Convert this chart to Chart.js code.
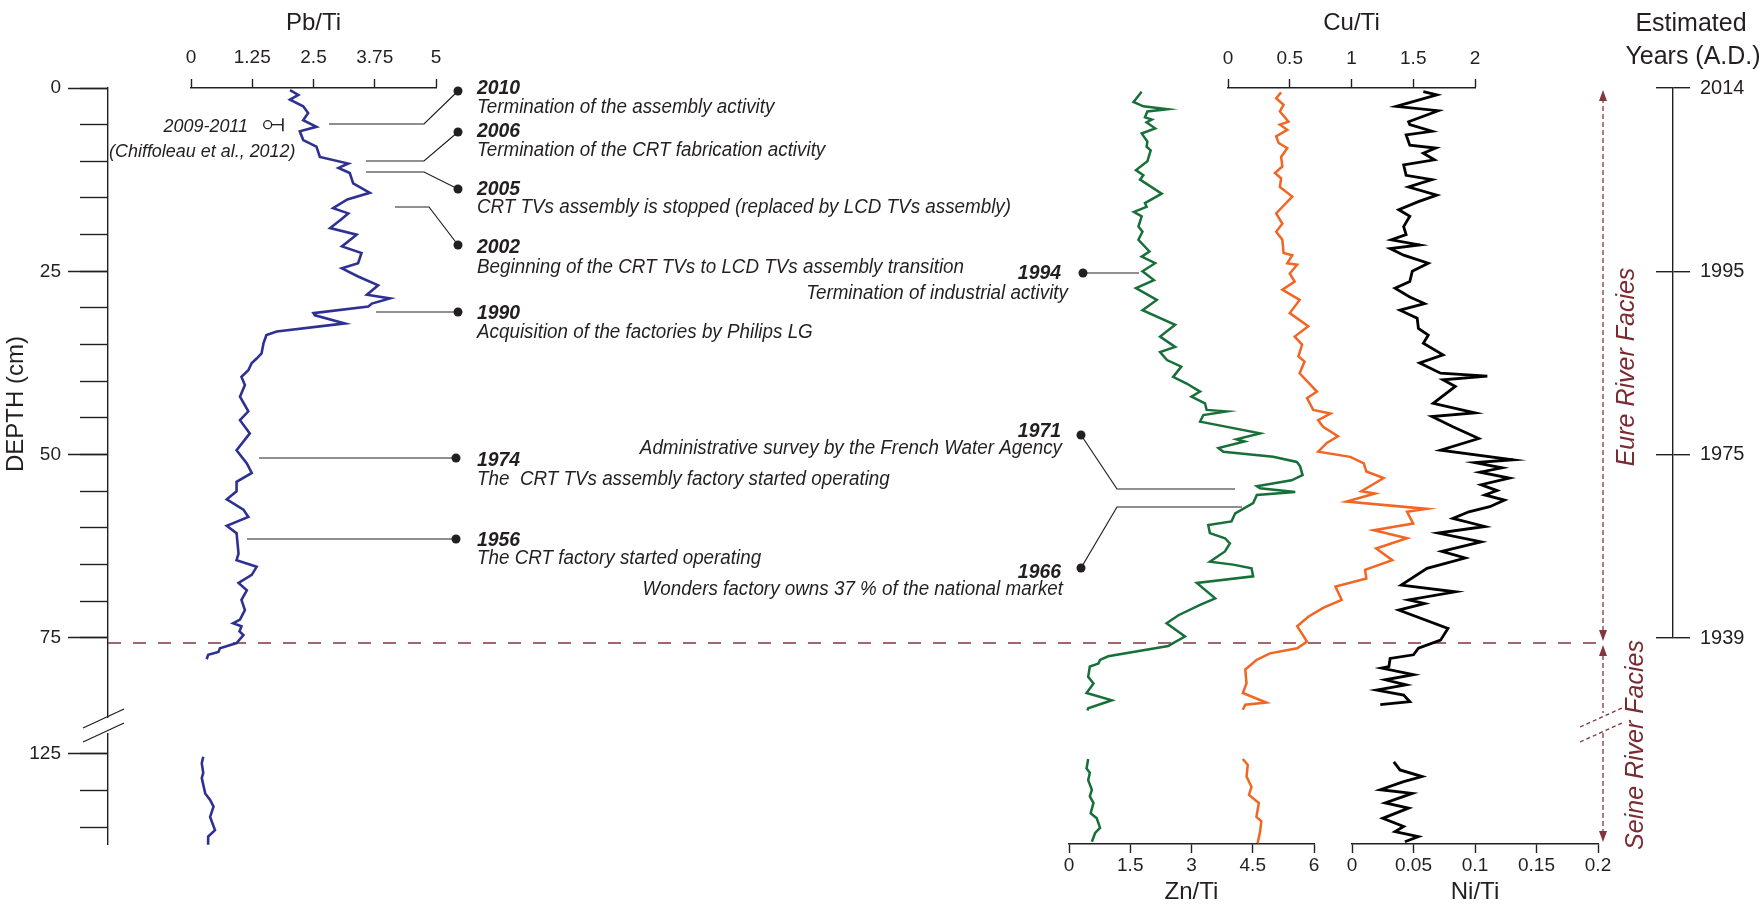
<!DOCTYPE html>
<html>
<head>
<meta charset="utf-8">
<script src="https://cdn.jsdelivr.net/npm/chart.js@4.4.0/dist/chart.umd.min.js"></script>
<style>
  html, body { margin: 0; padding: 0; background: #fff; }
  #wrap { position: relative; width: 1759px; height: 916px; overflow: hidden; background: #fff; }
  #wrap canvas { position: absolute; left: 0; top: 0; }
</style>
</head>
<body>
<div id="wrap">
  <canvas id="depthMinor" width="1759" height="916"></canvas>
  <canvas id="depthMajor" width="1759" height="916"></canvas>
  <canvas id="years" width="1759" height="916"></canvas>
  <canvas id="pb" width="1759" height="916"></canvas>
  <canvas id="zn" width="1759" height="916"></canvas>
  <canvas id="cu" width="1759" height="916"></canvas>
  <canvas id="ni" width="1759" height="916"></canvas>
</div>
<script>
// ---- data (depth in cm, ratios) ----
const pbDepth = [0.3,0.95,1.6,2.5,3.4,4.4,5.3,5.9,7.1,8.0,9.4,10.3,10.9,11.6,13.0,14.3,15.2,16.4,17.1,18.0,19.1,20.0,21.6,22.5,23.9,24.6,25.7,26.9,28.2,28.7,29.4,29.8,30.7,31.0,32.1,33.2,33.7,34.8,36.2,36.9,37.5,38.5,39.4,40.5,42.1,44.1,45.3,47.1,49.4,51.2,52.5,53.7,55.0,56.1,57.5,58.5,59.7,60.7,63.5,64.4,65.3,66.4,67.5,68.5,69.8,71.2,72.5,73.0,73.4,74.1,74.6,75.7,76.4,76.9,77.3,77.9];
const pbValue = [2.02,2.19,2.02,2.29,2.39,2.29,2.56,2.22,2.29,2.56,2.63,3.21,3.01,3.24,3.31,3.65,3.19,2.90,3.21,3.05,2.84,3.38,3.08,3.48,3.41,3.08,3.41,3.82,3.59,4.06,3.69,3.62,2.50,2.53,3.14,1.75,1.54,1.48,1.44,1.34,1.24,1.17,1.03,1.10,1.00,1.17,1.00,1.20,0.93,1.14,1.24,0.93,0.93,0.73,1.07,1.17,0.73,0.93,0.97,0.93,1.34,1.24,0.97,1.14,1.03,1.10,1.00,0.86,1.03,0.99,1.07,0.93,0.59,0.56,0.35,0.32];
const pbDepthLow = [125.4,126.3,127.6,128.3,130.4,131.3,132.2,133.6,135.4,136.3,137.4];
const pbValueLow = [0.25,0.22,0.25,0.22,0.29,0.39,0.46,0.39,0.49,0.35,0.35];

const znDepth = [0.5,1.9,2.5,2.9,3.2,4.0,4.3,4.7,5.5,6.2,7.3,8.0,8.5,10.0,11.2,11.9,12.5,14.4,15.7,16.2,16.9,17.5,18.9,19.6,20.7,22.3,23.0,23.9,25.0,26.2,27.3,28.9,30.3,32.3,33.9,35.3,36.0,37.1,38.0,39.4,40.3,41.4,42.1,43.0,43.9,44.1,44.6,45.5,47.1,47.9,48.2,49.1,49.6,50.3,51.0,51.6,52.8,53.5,54.3,54.6,55.1,55.5,56.6,58.0,59.1,59.6,60.7,61.4,62.1,63.2,64.6,65.0,65.5,66.6,67.5,69.6,70.5,71.9,73.0,74.8,75.7,76.1,77.5,78.0,78.5,78.9,80.3,81.2,82.5,83.5,84.6,84.9];
const znValue = [1.78,1.58,1.82,2.41,1.92,1.86,2.03,1.90,2.11,1.78,1.92,1.90,2.00,1.92,1.64,1.82,1.74,2.27,1.86,1.90,1.59,1.78,1.70,1.80,1.70,1.97,1.78,2.11,1.80,2.08,1.64,2.15,1.80,2.60,2.23,2.60,2.23,2.40,2.75,2.55,2.88,3.21,3.00,3.33,3.37,3.86,3.29,3.21,4.68,4.10,4.30,3.66,3.78,5.00,5.58,5.66,5.72,5.45,4.60,4.68,5.54,4.60,4.51,4.07,3.98,3.41,3.45,3.82,3.94,3.82,3.45,4.02,4.47,4.51,3.13,3.58,3.21,2.68,2.39,2.84,2.55,2.43,0.96,0.76,0.72,0.51,0.47,0.60,0.43,1.05,0.47,0.45];
const znDepthLow = [125.7,127.0,127.6,128.6,129.9,130.8,131.7,133.1,133.8,135.1,135.8,137.0];
const znValueLow = [0.47,0.43,0.51,0.47,0.56,0.51,0.60,0.53,0.68,0.76,0.64,0.56];

const cuDepth = [0.6,1.4,2.3,3.2,4.6,5.0,5.7,6.6,7.5,8.2,9.4,10.7,11.6,12.3,13.5,14.8,16.4,17.1,18.5,19.6,20.7,22.5,22.8,23.9,24.1,25.3,26.4,27.5,28.9,30.7,32.5,33.9,35.0,36.6,37.3,38.9,41.4,42.3,43.9,44.4,45.3,46.2,47.5,48.4,49.6,50.3,51.2,52.3,53.2,55.0,55.3,56.4,57.4,57.8,59.4,60.3,61.4,62.8,64.4,65.7,66.9,68.0,69.8,70.9,72.1,73.4,75.5,76.4,77.1,78.0,79.3,81.2,82.5,83.8,84.1,84.8];
const cuValue = [0.43,0.39,0.45,0.42,0.49,0.42,0.48,0.39,0.41,0.48,0.43,0.44,0.38,0.43,0.42,0.52,0.43,0.39,0.44,0.39,0.44,0.45,0.52,0.48,0.56,0.50,0.54,0.44,0.58,0.50,0.65,0.54,0.60,0.57,0.62,0.58,0.72,0.64,0.69,0.83,0.73,0.77,0.89,0.80,0.73,0.99,1.10,1.12,1.26,1.08,1.19,0.96,1.61,1.45,1.50,1.18,1.45,1.20,1.33,1.11,1.12,0.87,0.92,0.77,0.65,0.56,0.64,0.56,0.34,0.23,0.14,0.15,0.12,0.31,0.14,0.12];
const cuDepthLow = [125.7,126.5,128.1,129.5,130.6,131.7,133.6,134.2,135.6,137.2];
const cuValueLow = [0.12,0.16,0.15,0.19,0.17,0.25,0.23,0.27,0.26,0.24];

const niDepth = [0.5,0.95,2.5,3.1,4.6,5.0,5.9,6.4,7.8,8.2,8.9,9.8,10.5,11.9,12.5,13.5,14.6,15.5,16.6,17.5,18.9,20.0,20.7,21.4,21.9,22.8,23.9,25.0,26.4,27.3,28.5,29.4,30.3,31.4,32.8,33.7,34.8,36.4,37.5,38.9,39.3,39.8,40.7,43.0,44.3,44.8,46.2,47.8,49.4,50.7,51.1,51.8,52.4,53.2,54.1,54.9,55.5,56.2,57.1,57.8,58.7,59.8,60.7,61.9,63.2,64.1,65.5,67.8,68.7,69.8,70.3,71.2,73.7,75.3,76.4,77.3,77.8,78.9,79.1,80.0,80.7,81.4,82.1,82.8,83.7,84.1];
const niValue = [0.058,0.069,0.036,0.070,0.046,0.047,0.065,0.044,0.047,0.068,0.058,0.067,0.042,0.044,0.065,0.046,0.069,0.054,0.038,0.047,0.042,0.044,0.032,0.055,0.031,0.042,0.062,0.049,0.047,0.035,0.047,0.059,0.039,0.053,0.054,0.062,0.058,0.074,0.055,0.072,0.110,0.074,0.084,0.066,0.100,0.065,0.082,0.103,0.072,0.131,0.100,0.122,0.104,0.128,0.105,0.118,0.108,0.124,0.112,0.095,0.082,0.108,0.070,0.105,0.073,0.092,0.061,0.040,0.084,0.046,0.059,0.038,0.078,0.072,0.054,0.050,0.031,0.030,0.024,0.050,0.027,0.044,0.020,0.042,0.047,0.023];
const niDepthLow = [126.1,127.2,128.1,128.8,129.9,130.4,131.7,132.4,133.8,134.9,135.6,136.3,137.0];
const niValueLow = [0.034,0.039,0.057,0.042,0.023,0.049,0.027,0.046,0.025,0.042,0.035,0.054,0.043];

// Chiffoleau et al. (2012) point, 2009-2011
const chiffDepth = [5.0];
const chiffValue = [1.565];
const chiffError = [0.31];

// axes
const depthMinorTicks = [0,5,10,15,20,25,30,35,40,45,50,55,60,65,70,75,125,130,135];
const depthMajorTicks = [0,25,50,75,125];
const yearDepths = [0,25,50,75];
const yearLabels = [2014,1995,1975,1939];
const pbTicks = [0,1.25,2.5,3.75,5];
const znTicks = [0,1.5,3,4.5,6];
const cuTicks = [0,0.5,1,1.5,2];
const niTicks = [0,0.05,0.1,0.15,0.2];
const faciesDepth = 75.7;

// the depth axis is broken between ~86 and ~125 cm
const BREAK_FROM = 100, BREAK_SHIFT = 34.2, DEPTH_MAX = 103.1;
function plotDepth(d) { return d > BREAK_FROM ? d - BREAK_SHIFT : d; }
function points(depths, values) {
    return depths.map((d, i) => ({ x: values[i], y: plotDepth(d) }));
}

const INK = '#231f20';
const FACIES = '#84363c';
const FACIES_TEXT = '#7a2a31';
Chart.defaults.font.family = "'Liberation Sans', Arial, sans-serif";
Chart.defaults.color = INK;

// event annotations
const eventYears = ['2010','2006','2005','2002','1990','1974','1956','1994','1971','1966'];
const eventTexts = [
    'Termination of the assembly activity',
    'Termination of the CRT fabrication activity',
    'CRT TVs assembly is stopped (replaced by LCD TVs assembly)',
    'Beginning of the CRT TVs to LCD TVs assembly transition',
    'Acquisition of the factories by Philips LG',
    'The  CRT TVs assembly factory started operating',
    'The CRT factory started operating',
    'Termination of industrial activity',
    'Administrative survey by the French Water Agency',
    'Wonders factory owns 37 % of the national market'
];
// leader lines and label placement (page pixels)
const eventLayout = [
    { path: [[329,124],[424,124],[458,91]],  x: 477, y1: 88,  y2: 108, align: 'left' },
    { path: [[366,161],[424,161],[458,132]], x: 477, y1: 131, y2: 151, align: 'left' },
    { path: [[366,172],[424,172],[458,189]], x: 477, y1: 189, y2: 208, align: 'left' },
    { path: [[395,207],[429,207],[458,245]], x: 477, y1: 247, y2: 268, align: 'left' },
    { path: [[376,312],[458,312]],           x: 477, y1: 313, y2: 333, align: 'left' },
    { path: [[259,458],[456,458]],           x: 477, y1: 460, y2: 480, align: 'left' },
    { path: [[247,539],[456,539]],           x: 477, y1: 540, y2: 559, align: 'left' },
    { path: [[1139,273],[1083,273]],         x: 1061, x2: 1068, y1: 273, y2: 294, align: 'right' },
    { path: [[1235,489],[1117,489],[1081,435]], x: 1061, x2: 1062, y1: 431, y2: 449, align: 'right' },
    { path: [[1242,507],[1117,507],[1081,568]], x: 1061, x2: 1063, y1: 572, y2: 590, align: 'right' }
];

function line(ctx, pts) {
    ctx.beginPath();
    ctx.moveTo(pts[0][0], pts[0][1]);
    for (let i = 1; i < pts.length; i++) ctx.lineTo(pts[i][0], pts[i][1]);
    ctx.stroke();
}
// sx < 1 squeezes the glyphs a little, closer to the condensed face of the original
function text(ctx, s, x, y, font, align, color, rot, sx) {
    ctx.save();
    ctx.translate(x, y);
    if (rot) ctx.rotate(rot);
    if (sx) ctx.scale(sx, 1);
    ctx.font = font;
    ctx.fillStyle = color;
    ctx.textAlign = align;
    ctx.textBaseline = 'middle';
    ctx.fillText(s, 0, 0);
    ctx.restore();
}
function arrowHead(ctx, x, tipY, dir) {
    ctx.beginPath();
    ctx.moveTo(x, tipY);
    ctx.lineTo(x - 4, tipY - dir * 11);
    ctx.lineTo(x + 4, tipY - dir * 11);
    ctx.closePath();
    ctx.fill();
}

const annotations = {
    id: 'annotations',
    afterDraw(chart) {
        const ctx = chart.ctx;
        const ys = chart.scales.y;
        const area = chart.chartArea;
        const FONT = "'Liberation Sans', Arial, sans-serif";
        ctx.save();

        // break on the depth axis
        ctx.fillStyle = '#fff';
        ctx.fillRect(area.left - 3, 718, 6, 15);
        ctx.strokeStyle = INK;
        ctx.lineWidth = 1.3;
        line(ctx, [[83,728],[124,709]]);
        line(ctx, [[83,742],[124,723]]);

        // Eure / Seine facies boundary
        const yb = ys.getPixelForValue(faciesDepth);
        ctx.strokeStyle = FACIES;
        ctx.lineWidth = 1.5;
        ctx.setLineDash([13, 12]);
        line(ctx, [[area.left, yb], [1603, yb]]);

        // facies arrows
        ctx.lineWidth = 1.3;
        ctx.setLineDash([5, 3]);
        line(ctx, [[1603, 98], [1603, 632]]);
        line(ctx, [[1603, 655], [1603, 713]]);
        line(ctx, [[1603, 733], [1603, 832]]);
        ctx.setLineDash([4, 3]);
        line(ctx, [[1580,727],[1622,708]]);
        line(ctx, [[1580,742],[1622,723]]);
        ctx.setLineDash([]);
        ctx.fillStyle = FACIES;
        arrowHead(ctx, 1603, 90, -1);
        arrowHead(ctx, 1603, yb - 2, 1);
        arrowHead(ctx, 1603, yb + 2, -1);
        arrowHead(ctx, 1603, 842, 1);

        text(ctx, 'Eure River Facies', 1627, 367, 'italic 25px ' + FONT, 'center', FACIES_TEXT, -Math.PI / 2);
        text(ctx, 'Seine River Facies', 1636, 745, 'italic 25px ' + FONT, 'center', FACIES_TEXT, -Math.PI / 2);

        // axis headings that are not scale titles
        text(ctx, 'DEPTH (cm)', 16, 404, '24px ' + FONT, 'center', INK, -Math.PI / 2);
        text(ctx, 'Estimated', 1691, 24, '25px ' + FONT, 'center', INK);
        text(ctx, 'Years (A.D.)', 1693, 57, '25px ' + FONT, 'center', INK);

        // Chiffoleau label
        text(ctx, '2009-2011', 248, 127, 'italic 18.5px ' + FONT, 'right', INK, 0, 0.97);
        text(ctx, '(Chiffoleau et al., 2012)', 109, 152, 'italic 18.5px ' + FONT, 'left', INK, 0, 0.97);

        // events
        ctx.strokeStyle = INK;
        ctx.fillStyle = INK;
        ctx.lineWidth = 1.2;
        eventLayout.forEach((e, i) => {
            line(ctx, e.path);
            const dot = e.path[e.path.length - 1];
            ctx.beginPath();
            ctx.arc(dot[0], dot[1], 4.5, 0, Math.PI * 2);
            ctx.fill();
            text(ctx, eventYears[i], e.x, e.y1, 'italic bold 20px ' + FONT, e.align, INK, 0, 0.97);
            text(ctx, eventTexts[i], e.x2 || e.x, e.y2, 'italic 19.5px ' + FONT, e.align, INK, 0, 0.965);
        });
        ctx.restore();
    }
};

const baseOptions = {
    responsive: false,
    animation: false,
    events: [],
    plugins: { legend: { display: false }, tooltip: { enabled: false } }
};

// depth axis: minor ticks
new Chart(document.getElementById('depthMinor'), {
    type: 'scatter',
    data: { datasets: [] },
    options: Object.assign({}, baseOptions, {
        layout: { padding: { left: 0, right: 1500, top: 88, bottom: 72 } },
        scales: {
            x: { display: false },
            y: {
                type: 'linear', position: 'left', reverse: true, min: 0, max: DEPTH_MAX,
                afterBuildTicks: s => { s.ticks = depthMinorTicks.map(d => ({ value: plotDepth(d) })); },
                afterFit: s => { s.width = 108; },
                ticks: { display: false, autoSkip: false },
                grid: { drawOnChartArea: false, drawTicks: true, tickLength: 28, tickColor: INK, tickWidth: 1.4 },
                border: { display: false }
            }
        }
    })
});

// depth axis: labelled ticks + all annotation drawing
new Chart(document.getElementById('depthMajor'), {
    type: 'scatter',
    data: { datasets: [] },
    plugins: [annotations],
    options: Object.assign({}, baseOptions, {
        layout: { padding: { left: 0, right: 1500, top: 88, bottom: 72 } },
        scales: {
            x: { display: false },
            y: {
                type: 'linear', position: 'left', reverse: true, min: 0, max: DEPTH_MAX,
                afterBuildTicks: s => { s.ticks = depthMajorTicks.map(d => ({ value: plotDepth(d) })); },
                afterFit: s => { s.width = 108; },
                ticks: { autoSkip: false, padding: 7, color: INK, font: { size: 19 },
                         callback: (v, i) => String(depthMajorTicks[i]) },
                grid: { drawOnChartArea: false, drawTicks: true, tickLength: 40, tickColor: INK, tickWidth: 1.4 },
                border: { display: true, color: INK, width: 1.4 }
            }
        }
    })
});

// estimated years axis
new Chart(document.getElementById('years'), {
    type: 'scatter',
    data: { datasets: [] },
    options: Object.assign({}, baseOptions, {
        layout: { padding: { left: 1656, right: 0, top: 88, bottom: 278 } },
        scales: {
            x: { display: false },
            y: {
                type: 'linear', position: 'right', reverse: true, min: 0, max: 75,
                afterBuildTicks: s => { s.ticks = yearDepths.map(d => ({ value: d })); },
                afterFit: s => { s.width = 86; },
                ticks: { autoSkip: false, padding: 10, color: INK, font: { size: 20 },
                         callback: (v, i) => String(yearLabels[i]) },
                grid: { drawOnChartArea: true, drawTicks: true, tickLength: 17, color: INK, lineWidth: 1.4,
                        tickColor: INK, tickWidth: 1.4 },
                border: { display: true, color: INK, width: 1.4 }
            }
        }
    })
});

function profileChart(id, cfg) {
    const last = cfg.ticks.length - 1;
    return new Chart(document.getElementById(id), {
        type: 'scatter',
        data: { datasets: cfg.datasets },
        options: Object.assign({}, baseOptions, {
            layout: { padding: cfg.padding },
            scales: {
                x: {
                    type: 'linear', position: cfg.position, min: cfg.ticks[0], max: cfg.ticks[last],
                    afterBuildTicks: s => { s.ticks = cfg.ticks.map(v => ({ value: v })); },
                    afterFit: s => { s.height = cfg.axisHeight; },
                    ticks: { autoSkip: false, maxRotation: 0, padding: cfg.tickPad, color: INK,
                             font: { size: 19 }, callback: v => String(v) },
                    grid: { drawOnChartArea: false, drawTicks: true, tickLength: 9, tickColor: INK, tickWidth: 1.4 },
                    border: { display: true, color: INK, width: 1.4 },
                    title: { display: true, text: cfg.title, color: INK, font: { size: 24 }, padding: cfg.titlePad }
                },
                y: { type: 'linear', reverse: true, min: 0, max: DEPTH_MAX, display: false }
            }
        })
    });
}

function curve(data, color, width) {
    return { data: data, showLine: true, borderColor: color, borderWidth: width,
             pointRadius: 0, fill: false, clip: false, tension: 0 };
}

const PB = '#2e3192', ZN = '#17703a', CU = '#f26522', NI = '#000000';

profileChart('pb', {
    title: 'Pb/Ti', position: 'top', ticks: pbTicks, axisHeight: 88, tickPad: 10,
    titlePad: { top: 9, bottom: 0 },
    padding: { left: 191, right: 1759 - 436, top: 0, bottom: 72 },
    datasets: [
        { data: points(chiffDepth, chiffValue), pointStyle: 'circle', pointRadius: 4,
          pointBackgroundColor: '#fff', pointBorderColor: INK, pointBorderWidth: 1.3, clip: false },
        { data: points(chiffDepth, chiffValue.map((v, i) => v + chiffError[i])), pointStyle: 'line',
          rotation: 90, pointRadius: 6.5, pointBorderColor: INK, pointBorderWidth: 1.6, clip: false },
        { data: points(chiffDepth.concat(chiffDepth), chiffValue.concat(chiffValue.map((v, i) => v + chiffError[i]))),
          showLine: true, borderColor: INK, borderWidth: 1.3, pointRadius: 0, clip: false },
        curve(points(pbDepth, pbValue), PB, 2.6),
        curve(points(pbDepthLow, pbValueLow), PB, 2.6)
    ]
});

profileChart('zn', {
    title: 'Zn/Ti', position: 'bottom', ticks: znTicks, axisHeight: 72, tickPad: 1,
    titlePad: { top: 0, bottom: 9 },
    padding: { left: 1069, right: 1759 - 1314, top: 88, bottom: 0 },
    datasets: [ curve(points(znDepth, znValue), ZN, 2.5), curve(points(znDepthLow, znValueLow), ZN, 2.5) ]
});

profileChart('cu', {
    title: 'Cu/Ti', position: 'top', ticks: cuTicks, axisHeight: 88, tickPad: 9,
    titlePad: { top: 9, bottom: 0 },
    padding: { left: 1228, right: 1759 - 1475, top: 0, bottom: 72 },
    datasets: [ curve(points(cuDepth, cuValue), CU, 2.5), curve(points(cuDepthLow, cuValueLow), CU, 2.5) ]
});

profileChart('ni', {
    title: 'Ni/Ti', position: 'bottom', ticks: niTicks, axisHeight: 72, tickPad: 1,
    titlePad: { top: 0, bottom: 9 },
    padding: { left: 1352, right: 1759 - 1598, top: 88, bottom: 0 },
    datasets: [ curve(points(niDepth, niValue), NI, 2.8), curve(points(niDepthLow, niValueLow), NI, 2.8) ]
});
</script>
</body>
</html>
